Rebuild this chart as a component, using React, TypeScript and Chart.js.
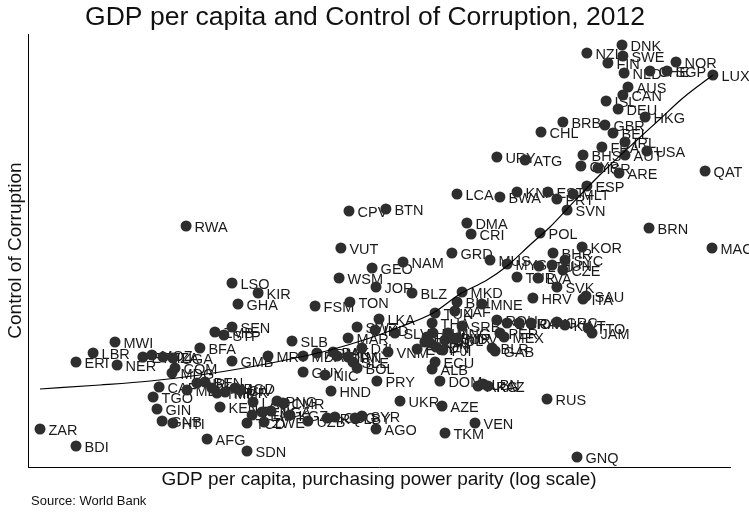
import { useEffect, useRef } from "react";
import Chart from "chart.js/auto";

// Country codes, log10 GDP per capita (PPP) and Control of Corruption estimate
const codes = [
  "DNK","NZL","SWE","FIN","NOR","NLD","CHE","SGP","LUX","AUS",
  "CAN","ISL","DEU","HKG","BRB","GBR","CHL","BEL","IRL","FRA",
  "USA","AUT","BHS","URY","ATG","QAT","ARE","CYP","ISR","LCA",
  "KNA","BWA","EST","PRT","MLT","ESP","SVN","CPV","BTN","DMA",
  "CRI","POL","BRN","RWA","MAC","KOR","VUT","GRD","NAM","MUS",
  "MYS","BHR","SYC","HUN","CZE","GEO","TUR","LVA","WSM","LSO",
  "SVK","JOR","KIR","BLZ","MKD","HRV","ITA","SAU","BIH","MNE",
  "TON","FSM","GHA","TUN","ZAF","LKA","ROU","BGR","BRA","OMN",
  "GRC","KWT","TTO","JAM","SEN","STP","ZMB","SWZ","SRB","PER",
  "MEX","SLB","BFA","MWI","MAR","IND","SLV","THA","PHL","PAN",
  "DZA","CHN","COL","MNG","SUR","MDV","IDN","EGY","FJI","VNM",
  "DJI","GTM","PAK","ARM","MDA","IRN","SLE","BOL","GUY","NIC",
  "HND","PRY","ECU","ALB","BLR","GAB","DOM","ARG","LBN","KAZ",
  "UKR","AZE","RUS","VEN","TKM","AGO","SYR","LBY","COG","IRQ",
  "UZB","KGZ","GNQ","MRT","GMB","ERI","LBR","NER","ETH","MOZ",
  "TZA","UGA","COM","MDG","CAF","TGO","GIN","GNB","HTI","MLI",
  "NPL","BEN","KHM","TMP","MMR","BGD","CIV","KEN","LAO","PNG",
  "CMR","NGA","TJK","YEM","TCD","ZWE","AFG","SDN","ZAR","BDI",
  "LTU",
];

const gdpLog = [
  4.680, 4.563, 4.683, 4.633, 4.860, 4.687, 4.773, 4.830, 4.983, 4.700,
  4.683, 4.627, 4.667, 4.757, 4.483, 4.623, 4.410, 4.650, 4.690, 4.613,
  4.763, 4.690, 4.550, 4.263, 4.357, 4.957, 4.670, 4.543, 4.600, 4.130,
  4.330, 4.273, 4.433, 4.463, 4.517, 4.563, 4.497, 3.770, 3.893, 4.163,
  4.177, 4.407, 4.770, 3.227, 4.980, 4.547, 3.743, 4.113, 3.950, 4.240,
  4.297, 4.450, 4.490, 4.447, 4.483, 3.847, 4.330, 4.400, 3.737, 3.380,
  4.463, 3.860, 3.467, 3.980, 4.147, 4.383, 4.550, 4.560, 4.130, 4.213,
  3.773, 3.657, 3.400, 4.057, 4.123, 3.870, 4.263, 4.297, 4.337, 4.377,
  4.463, 4.490, 4.567, 4.580, 3.380, 3.353, 3.323, 3.797, 4.147, 4.273,
  4.287, 3.580, 3.273, 2.990, 3.767, 3.857, 3.923, 4.047, 4.050, 4.030,
  4.023, 4.040, 4.090, 4.100, 4.113, 4.130, 4.060, 3.997, 4.083, 3.900,
  3.813, 3.730, 3.717, 3.663, 3.617, 3.767, 3.783, 3.797, 3.617, 3.690,
  3.710, 3.863, 4.057, 4.047, 4.247, 4.257, 4.073, 4.200, 4.217, 4.233,
  3.940, 4.080, 4.430, 4.190, 4.090, 3.860, 3.813, 3.790, 3.723, 3.697,
  3.633, 3.573, 4.530, 3.500, 3.380, 2.860, 2.917, 2.997, 3.083, 3.113,
  3.150, 3.183, 3.190, 3.180, 3.137, 3.117, 3.130, 3.147, 3.183, 3.230,
  3.263, 3.290, 3.313, 3.330, 3.357, 3.390, 3.407, 3.340, 3.450, 3.530,
  3.550, 3.510, 3.480, 3.447, 3.430, 3.487, 3.297, 3.430, 2.740, 2.860,
  4.403,
];

const corruption = [
  2.42, 2.34, 2.31, 2.24, 2.25, 2.14, 2.16, 2.16, 2.12, 2.00,
  1.92, 1.86, 1.78, 1.70, 1.65, 1.62, 1.55, 1.54, 1.45, 1.40,
  1.36, 1.32, 1.32, 1.30, 1.27, 1.16, 1.14, 1.21, 1.19, 0.93,
  0.95, 0.90, 0.95, 0.88, 0.93, 1.01, 0.77, 0.76, 0.78, 0.64,
  0.53, 0.54, 0.59, 0.61, 0.39, 0.40, 0.39, 0.34, 0.25, 0.27,
  0.23, 0.34, 0.27, 0.22, 0.17, 0.19, 0.10, 0.09, 0.09, 0.04,
  0.00, 0.00, -0.06, -0.06, -0.05, -0.11, -0.12, -0.09, -0.15, -0.17,
  -0.15, -0.19, -0.17, -0.26, -0.24, -0.32, -0.33, -0.36, -0.36, -0.36,
  -0.35, -0.38, -0.41, -0.46, -0.40, -0.48, -0.45, -0.40, -0.39, -0.46,
  -0.50, -0.54, -0.61, -0.55, -0.51, -0.43, -0.46, -0.36, -0.46, -0.50,
  -0.55, -0.56, -0.53, -0.46, -0.51, -0.51, -0.60, -0.62, -0.63, -0.65,
  -0.61, -0.69, -0.65, -0.66, -0.69, -0.70, -0.75, -0.81, -0.85, -0.88,
  -1.04, -0.94, -0.75, -0.82, -0.61, -0.64, -0.94, -0.99, -0.97, -0.99,
  -1.14, -1.19, -1.12, -1.36, -1.46, -1.42, -1.29, -1.31, -1.30, -1.31,
  -1.34, -1.28, -1.70, -0.69, -0.74, -0.75, -0.66, -0.78, -0.70, -0.68,
  -0.70, -0.71, -0.81, -0.86, -1.00, -1.10, -1.22, -1.34, -1.36, -1.03,
  -0.96, -0.95, -1.01, -1.06, -1.05, -1.01, -1.03, -1.20, -1.15, -1.14,
  -1.16, -1.24, -1.25, -1.28, -1.36, -1.35, -1.52, -1.64, -1.42, -1.59,
  0.21,
];

// Smoothed fit line
const trendX = [2.74, 2.94, 3.107, 3.273, 3.44, 3.607, 3.707, 3.84, 3.94, 4.05, 4.14, 4.23, 4.297, 4.373, 4.44, 4.497, 4.573, 4.64, 4.73, 4.807, 4.883, 4.983];
const trendY = [-1.02, -0.98, -0.94, -0.88, -0.80, -0.70, -0.63, -0.51, -0.40, -0.26, -0.07, 0.07, 0.21, 0.42, 0.60, 0.78, 1.02, 1.22, 1.47, 1.68, 1.89, 2.12];

const TITLE = "GDP per capita and Control of Corruption, 2012";
const X_TITLE = "GDP per capita, purchasing power parity (log scale)";
const Y_TITLE = "Control of Corruption";
const SOURCE = "Source: World Bank";
const FONT = "'Liberation Sans', Arial, Helvetica, sans-serif";

export default function App() {
  const ref = useRef<HTMLCanvasElement>(null);

  useEffect(() => {
    const canvas = ref.current;
    if (!canvas) return;

    const labelPlugin = {
      id: "countryLabels",
      beforeDatasetsDraw(chart: any) {
        const meta = chart.getDatasetMeta(1);
        const ctx = chart.ctx;
        ctx.save();
        ctx.font = `14.5px ${FONT}`;
        ctx.fillStyle = "#1a1a1a";
        ctx.textBaseline = "middle";
        ctx.textAlign = "left";
        meta.data.forEach((el: any, i: number) => {
          ctx.fillText(codes[i], el.x + 8.5, el.y + 1.5);
        });
        ctx.restore();
      },
      afterDraw(chart: any) {
        const ctx = chart.ctx;
        ctx.save();
        ctx.font = `13px ${FONT}`;
        ctx.fillStyle = "#111";
        ctx.textBaseline = "middle";
        ctx.textAlign = "left";
        ctx.fillText(SOURCE, 31, 501);
        ctx.restore();
      },
    };

    const chart = new Chart(canvas, {
      type: "scatter",
      data: {
        datasets: [
          {
            label: "fit",
            data: trendX.map((x, i) => ({ x, y: trendY[i] })),
            showLine: true,
            borderColor: "#000",
            borderWidth: 1.2,
            pointRadius: 0,
            cubicInterpolationMode: "monotone",
            fill: false,
          } as any,
          {
            label: "countries",
            data: gdpLog.map((x, i) => ({ x, y: corruption[i] })),
            pointRadius: 5.5,
            pointHoverRadius: 5.5,
            backgroundColor: "#2e2e2e",
            borderColor: "#2e2e2e",
            borderWidth: 0,
          },
        ],
      },
      options: {
        responsive: false,
        animation: false,
        events: [],
        layout: { padding: { left: 0, right: 19, top: 0, bottom: 0 } },
        plugins: {
          legend: { display: false },
          tooltip: { enabled: false },
          title: {
            display: true,
            text: TITLE,
            color: "#111",
            font: { family: FONT, size: 26.5, weight: "normal" },
            padding: { top: 1.5, bottom: 0.7 },
          },
        },
        scales: {
          x: {
            type: "linear",
            min: 2.7,
            max: 5.04,
            ticks: { display: false },
            grid: { display: false },
            border: { display: true, color: "#000", width: 1 },
            title: {
              display: true,
              text: X_TITLE,
              color: "#111",
              font: { family: FONT, size: 19 },
              padding: { top: 0, bottom: 22.6 },
            },
            afterFit(scale: any) {
              scale.height = 47;
            },
          },
          y: {
            type: "linear",
            min: -1.8,
            max: 2.53,
            ticks: { display: false },
            grid: { display: false },
            border: { display: true, color: "#000", width: 1 },
            title: {
              display: true,
              text: Y_TITLE,
              color: "#111",
              font: { family: FONT, size: 19 },
              padding: { top: 4, bottom: 0 },
            },
            afterFit(scale: any) {
              scale.width = 28;
            },
          },
        },
      },
      plugins: [labelPlugin],
    });

    return () => chart.destroy();
  }, []);

  return (
    <div style={{ position: "fixed", left: 0, top: 0, width: 749, height: 514, background: "#fff" }}>
      <canvas ref={ref} width={749} height={514} style={{ display: "block", width: "749px", height: "514px" }} />
    </div>
  );
}
